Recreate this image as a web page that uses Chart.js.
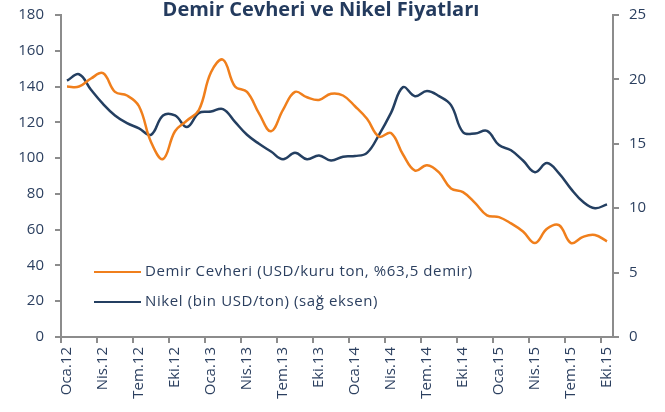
<!DOCTYPE html>
<html>
<head>
<meta charset="utf-8">
<script src="https://cdn.jsdelivr.net/npm/chart.js@4"></script>
<style>
  body { margin: 0; background: #fff; }
  #wrap { position: relative; width: 665px; height: 412px; font-family: "Open Sans", sans-serif; }
  #title { position: absolute; left: 0; width: 642px; top: -1px; line-height: 20px; text-align: center; font-size: 20px; font-weight: bold; color: #243b5e; }
  .leg { position: absolute; left: 94px; font-size: 15px; line-height: 20px; letter-spacing: 0.6px; color: #2b3f5f; white-space: nowrap; }
  .leg span { display: inline-block; width: 47px; height: 2px; vertical-align: middle; margin-right: 4px; }
</style>
</head>
<body>
<div id="wrap">
  <canvas id="grafica" width="665" height="412"></canvas>
  <div id="title">Demir Cevheri ve Nikel Fiyatları</div>
  <div class="leg" style="top:260px"><span style="background:#f07f1c"></span>Demir Cevheri (USD/kuru ton, %63,5 demir)</div>
  <div class="leg" style="top:290px"><span style="background:#243f61"></span>Nikel (bin USD/ton) (sağ eksen)</div>
</div>
<script>
  const aylar = [
    "Oca.12","Şub.12","Mar.12","Nis.12","May.12","Haz.12","Tem.12","Ağu.12","Eyl.12","Eki.12","Kas.12","Ara.12",
    "Oca.13","Şub.13","Mar.13","Nis.13","May.13","Haz.13","Tem.13","Ağu.13","Eyl.13","Eki.13","Kas.13","Ara.13",
    "Oca.14","Şub.14","Mar.14","Nis.14","May.14","Haz.14","Tem.14","Ağu.14","Eyl.14","Eki.14","Kas.14","Ara.14",
    "Oca.15","Şub.15","Mar.15","Nis.15","May.15","Haz.15","Tem.15","Ağu.15","Eyl.15","Eki.15"
  ];
  const demir = [
    140, 140, 144.5, 147.5, 137, 135, 129, 109, 99.5, 115, 121, 127,
    148, 155, 140, 137, 125, 115, 127, 137, 134, 132.5, 136, 135,
    129, 122, 112, 114, 102, 93, 96, 92, 83, 81, 75, 68,
    67, 63.5, 59, 52.5, 60.5, 62.5, 52.5, 56, 57, 53.5
  ];
  const nikel = [
    19.9, 20.4, 19.2, 18.1, 17.2, 16.6, 16.2, 15.7, 17.2, 17.2, 16.3, 17.4,
    17.5, 17.7, 16.7, 15.7, 15.0, 14.4, 13.8, 14.3, 13.8, 14.1, 13.7, 14.0,
    14.05, 14.3, 15.7, 17.4, 19.4, 18.7, 19.1, 18.7, 18.0, 15.9, 15.8, 16.0,
    14.9, 14.5, 13.7, 12.8, 13.5, 12.7, 11.5, 10.5, 10.0, 10.3
  ];

  const yazi = "#2b3f5f";
  const eksen = "#8c8c8c";
  const font = { family: "Open Sans", size: 15 };

  // dikey eksenlerin kendi üst/alt boşluğunu sıfırla, çizim alanı 15px'ten başlasın
  function dikeyFit(genislik) {
    return (s) => {
      s.width = genislik;
      s.paddingTop = 0;
      s.paddingBottom = 0;
    };
  }

  const ctx = document.getElementById("grafica").getContext("2d");
  new Chart(ctx, {
    type: "line",
    data: {
      labels: aylar,
      datasets: [
        {
          label: "Demir Cevheri (USD/kuru ton, %63,5 demir)",
          data: demir,
          borderColor: "#f07f1c",
          borderWidth: 2.5,
          tension: 0.4,
          pointRadius: 0,
          yAxisID: "y"
        },
        {
          label: "Nikel (bin USD/ton) (sağ eksen)",
          data: nikel,
          borderColor: "#243f61",
          borderWidth: 2.5,
          tension: 0.4,
          pointRadius: 0,
          yAxisID: "y2"
        }
      ]
    },
    options: {
      responsive: false,
      animation: false,
      layout: { padding: { top: 15, left: 0, right: 0, bottom: 0 } },
      plugins: { legend: { display: false }, tooltip: { enabled: false } },
      scales: {
        x: {
          offset: true,
          grid: {
            offset: true,
            drawOnChartArea: false,
            tickLength: 6,
            lineWidth: 2,
            color: (c) => (c.index % 3 === 0 ? eksen : "rgba(0,0,0,0)")
          },
          border: { color: eksen, width: 2 },
          ticks: {
            autoSkip: false,
            minRotation: 90,
            maxRotation: 90,
            padding: 4,
            color: yazi,
            font: font,
            callback: function (v, i) { return i % 3 === 0 ? this.getLabelForValue(v) : ""; }
          },
          afterFit: (s) => { s.height = 75; }
        },
        y: {
          position: "left",
          min: 0, max: 180,
          ticks: { stepSize: 20, color: yazi, font: font, padding: 11 },
          grid: { drawOnChartArea: false, tickLength: 6, color: eksen, lineWidth: 2 },
          border: { color: eksen, width: 2 },
          afterFit: dikeyFit(61)
        },
        y2: {
          position: "right",
          min: 0, max: 25,
          ticks: { stepSize: 5, color: yazi, font: font, padding: 10 },
          grid: { drawOnChartArea: false, tickLength: 6, color: eksen, lineWidth: 2 },
          border: { color: eksen, width: 2 },
          afterFit: dikeyFit(52)
        }
      }
    }
  });
</script>
</body>
</html>
